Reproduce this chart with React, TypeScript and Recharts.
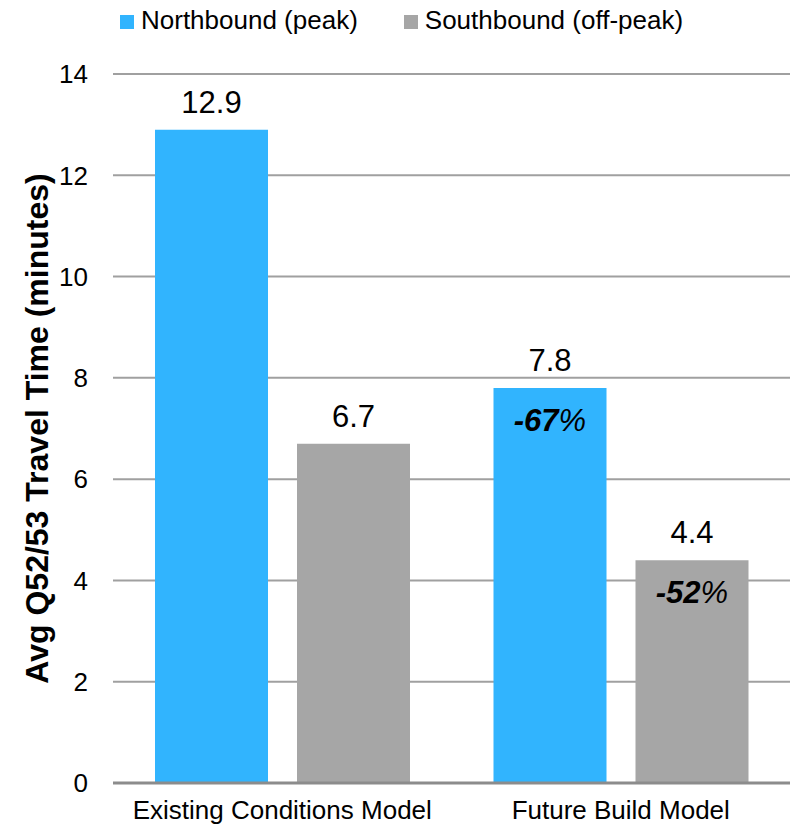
import React from 'react'
import { BarChart, Bar, XAxis, YAxis, CartesianGrid, LabelList, Label } from 'recharts'

const categories = ['Existing Conditions Model', 'Future Build Model']
const northbound = [12.9, 7.8]
const southbound = [6.7, 4.4]
const northChange = ['', '-67']
const southChange = ['', '-52']
const yTicks = [0, 2, 4, 6, 8, 10, 12, 14]
const seriesNames = ['Northbound (peak)', 'Southbound (off-peak)']

const BLUE = '#31B4FE'
const GRAY = '#A6A6A6'
const FONT = '"Liberation Sans", Arial, sans-serif'

const data = categories.map((c, i) => ({
    category: c,
    north: northbound[i],
    south: southbound[i],
    northPct: northChange[i],
    southPct: southChange[i],
}))

const ValueLabel = (props: any) => {
    const vb = props.viewBox || props
    const x = vb.x + vb.width / 2
    return (
        <text x={x} y={vb.y - 17} textAnchor="middle" fontSize={31} fontFamily={FONT} fill="#000">
            {props.value}
        </text>
    )
}

const PctLabel = (props: any) => {
    if (!props.value) return null
    const vb = props.viewBox || props
    const x = vb.x + vb.width / 2
    return (
        <text x={x} y={vb.y + 43} textAnchor="middle" fontSize={31} fontFamily={FONT} fontStyle="italic" fill="#000">
            <tspan fontWeight="bold">{props.value}</tspan>
            <tspan>%</tspan>
        </text>
    )
}

const YLabel = (props: any) => {
    const vb = props.viewBox
    return (
        <text
            transform={`translate(${vb.x + 48}, ${vb.y + vb.height / 2}) rotate(-90)`}
            textAnchor="middle"
            fontSize={32}
            fontWeight="bold"
            fontFamily={FONT}
            fill="#000"
        >
            Avg Q52/53 Travel Time (minutes)
        </text>
    )
}

export default function App() {
    const colors = [BLUE, GRAY]
    return (
        <div style={{ position: 'absolute', left: 0, top: 0, width: 794, height: 828, background: '#fff' }}>
            <div style={{ position: 'absolute', left: 120, top: 5, display: 'flex', gap: 46, fontFamily: FONT, fontSize: 26, lineHeight: '30px' }}>
                {seriesNames.map((name, i) => (
                    <div key={name} style={{ display: 'flex', alignItems: 'center' }}>
                        <span style={{ width: 14, height: 14, background: colors[i], marginRight: 7, marginTop: 3 }} />
                        <span>{name}</span>
                    </div>
                ))}
            </div>
            <BarChart
                width={794}
                height={828}
                data={data}
                margin={{ top: 74, right: 4, bottom: 15, left: 0 }}
                barSize={113}
                barGap={29}
            >
                <CartesianGrid vertical={false} stroke="#A0A0A0" strokeWidth={2} />
                <XAxis
                    dataKey="category"
                    height={30}
                    axisLine={{ stroke: '#8C8C8C', strokeWidth: 3 }}
                    tickLine={false}
                    tickSize={0}
                    tickMargin={18}
                    tick={{ fill: '#000', fontSize: 26, fontFamily: FONT }}
                    interval={0}
                />
                <YAxis
                    domain={[0, 14]}
                    ticks={yTicks}
                    width={113}
                    axisLine={false}
                    tickLine={false}
                    tickSize={0}
                    tickMargin={25}
                    tick={{ fill: '#000', fontSize: 26, fontFamily: FONT }}
                >
                    <Label content={YLabel} />
                </YAxis>
                <Bar dataKey="north" fill={BLUE} isAnimationActive={false}>
                    <LabelList dataKey="north" content={ValueLabel} />
                    <LabelList dataKey="northPct" content={PctLabel} />
                </Bar>
                <Bar dataKey="south" fill={GRAY} isAnimationActive={false}>
                    <LabelList dataKey="south" content={ValueLabel} />
                    <LabelList dataKey="southPct" content={PctLabel} />
                </Bar>
            </BarChart>
        </div>
    )
}
